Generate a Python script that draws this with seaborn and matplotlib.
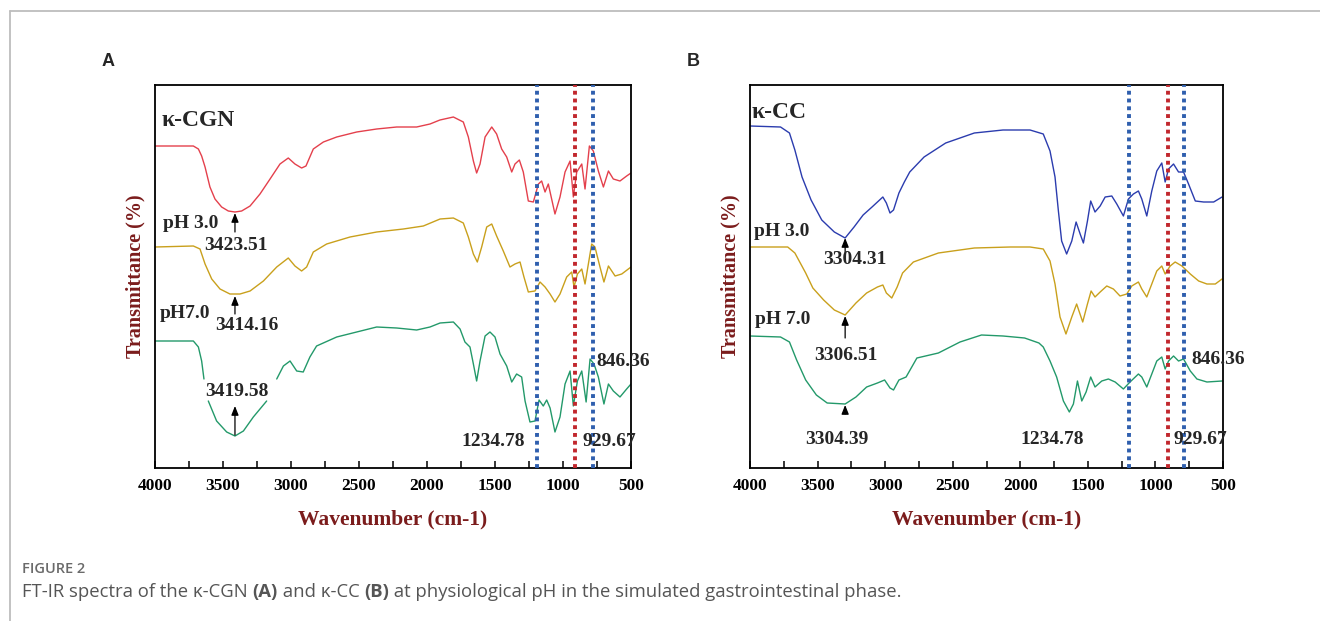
import numpy as np
import pandas as pd
import matplotlib
matplotlib.use("Agg")
import matplotlib.pyplot as plt
import seaborn as sns
from matplotlib.lines import Line2D
from matplotlib.ticker import MultipleLocator

sns.set_theme(style="white")
plt.rcParams["font.family"] = ["Liberation Serif", "DejaVu Serif"]

# ---------------- data (transmittance, arbitrary offset units) ----------------
# Panel A : kappa-CGN
a_red_wn = [4000, 3718, 3681, 3657, 3632, 3596, 3559, 3510, 3461, 3412, 3363, 3301, 3228, 3154, 3081, 3020,
            2971, 2922, 2890, 2836, 2762, 2664, 2517, 2370, 2223, 2076, 1978, 1905, 1806, 1733, 1696, 1659,
            1635, 1610, 1573, 1524, 1488, 1451, 1414, 1377, 1353, 1321, 1292, 1255, 1218, 1181, 1157, 1132,
            1108, 1059, 1022, 985, 948, 924, 899, 862, 838, 806, 777, 740, 703, 666, 630, 581, 532, 500]
a_red_t = [322, 322, 319, 312, 301, 281, 269, 261, 257, 256, 257, 262, 274, 289, 304, 310,
           304, 300, 302, 319, 326, 331, 336, 339, 341, 341, 344, 348, 351, 346, 331, 307,
           295, 304, 331, 341, 334, 319, 311, 296, 304, 308, 296, 267, 266, 284, 287, 276,
           284, 254, 271, 296, 307, 271, 296, 304, 279, 322, 317, 297, 281, 297, 289, 287, 292, 295]

a_yel_wn = [4000, 3718, 3669, 3632, 3583, 3522, 3449, 3375, 3301, 3203, 3105, 3020, 2971, 2922, 2885, 2836,
            2738, 2566, 2370, 2174, 2027, 1904, 1806, 1733, 1696, 1659, 1630, 1598, 1561, 1524, 1488, 1439,
            1390, 1353, 1316, 1287, 1255, 1206, 1169, 1132, 1095, 1059, 1022, 973, 936, 919, 894, 862,
            838, 789, 765, 728, 699, 666, 617, 568, 500]
a_yel_t = [221, 222, 219, 204, 189, 179, 174, 174, 177, 187, 201, 210, 202, 197, 201, 216,
           224, 231, 236, 239, 242, 249, 250, 245, 231, 214, 206, 221, 241, 244, 232, 217,
           201, 204, 206, 191, 176, 177, 186, 181, 174, 166, 174, 191, 196, 181, 194, 199,
           184, 224, 221, 201, 186, 202, 192, 194, 201]

# NaN marks the gaps visible in the green trace
a_grn_wn = [4000, 3718, 3681, 3657, 3640, 3624, 3608, 3547, 3473, 3412, 3350, 3277, 3179, 3142, 3105,
            3056, 3007, 2958, 2910, 2861, 2812, 2664, 2517, 2370, 2223, 2076, 1978, 1904, 1806, 1757,
            1721, 1684, 1659, 1635, 1610, 1573, 1537, 1500, 1463, 1414, 1377, 1341, 1304, 1279, 1243,
            1206, 1176, 1145, 1120, 1095, 1059, 1022, 985, 948, 924, 894, 862, 830, 801, 772,
            740, 699, 666, 630, 581, 532, 500]
a_grn_t = [127, 127, 121, 107, 89, np.nan, 67, 47, 36, 32, 37, 51, 67, np.nan, 89,
           102, 107, 97, 96, 111, 122, 131, 136, 141, 140, 138, 141, 145, 146, 139,
           126, 121, 104, 87, 107, 132, 136, 131, 114, 102, 86, 94, 91, 67, 46,
           47, 68, 62, 68, 60, 36, 51, 84, 97, 62, 87, 97, 66, 109, 104,
           91, 64, 84, 77, 71, 79, 84]

# Panel B : kappa-CC
b_blu_wn = [4000, 3774, 3708, 3668, 3615, 3548, 3469, 3376, 3296, 3230, 3163, 3097, 3057, 3017, 2991, 2964,
            2938, 2898, 2858, 2818, 2712, 2552, 2340, 2128, 1928, 1830, 1780, 1743, 1718, 1694, 1657, 1619,
            1587, 1557, 1533, 1503, 1479, 1447, 1409, 1372, 1323, 1286, 1237, 1200, 1163, 1126, 1101, 1064,
            1027, 990, 953, 928, 903, 866, 829, 792, 755, 705, 643, 569, 507]
b_blu_t = [342, 341, 335, 318, 291, 268, 248, 236, 230, 241, 253, 261, 266, 271, 265, 255,
           258, 275, 286, 296, 311, 325, 335, 338, 338, 334, 317, 291, 257, 227, 214, 227,
           246, 234, 225, 247, 267, 256, 262, 271, 272, 264, 252, 269, 274, 277, 269, 252,
           277, 297, 305, 286, 299, 304, 296, 296, 284, 267, 266, 266, 271]

b_yel_wn = [4000, 3721, 3668, 3588, 3535, 3455, 3376, 3296, 3216, 3137, 3057, 3017, 2991, 2951, 2911, 2871,
            2791, 2606, 2340, 2074, 1928, 1830, 1780, 1743, 1706, 1662, 1619, 1583, 1538, 1503, 1476, 1447,
            1409, 1360, 1311, 1262, 1212, 1175, 1126, 1101, 1064, 1027, 990, 953, 928, 891, 854, 804,
            742, 680, 619, 557, 507]
b_yel_t = [221, 221, 215, 195, 180, 168, 158, 153, 165, 175, 181, 183, 175, 170, 181, 195,
           206, 215, 220, 221, 221, 219, 207, 184, 151, 134, 151, 164, 146, 164, 177, 171,
           176, 182, 179, 172, 174, 182, 186, 179, 171, 184, 197, 202, 194, 202, 206, 202,
           194, 187, 184, 184, 189]

b_grn_wn = [4000, 3774, 3708, 3655, 3588, 3509, 3429, 3296, 3216, 3137, 3057, 3004, 2964, 2938, 2898, 2845,
            2765, 2606, 2446, 2287, 2128, 1968, 1862, 1830, 1780, 1731, 1681, 1637, 1607, 1577, 1545, 1513,
            1479, 1447, 1397, 1348, 1298, 1237, 1188, 1126, 1101, 1064, 1027, 990, 953, 928, 903, 866,
            829, 792, 742, 693, 619, 507]
b_grn_t = [132, 131, 126, 108, 88, 73, 65, 64, 71, 81, 85, 88, 80, 78, 88, 91,
           110, 115, 126, 133, 132, 130, 125, 121, 107, 91, 67, 56, 64, 87, 67, 76,
           91, 81, 87, 89, 86, 79, 86, 94, 91, 81, 94, 107, 111, 99, 107, 112,
           107, 109, 97, 89, 86, 87]

# reference band positions (dotted verticals)
a_blue_lines = [1193, 777]
a_red_lines = [912]
b_blue_lines = [1193, 789]
b_red_lines = [909]

x_ticks = [4000, 3500, 3000, 2500, 2000, 1500, 1000, 500]

C_RED, C_YEL, C_GRN, C_BLU = "#e4404c", "#c9a01c", "#23996a", "#2b3cae"
C_VBLUE, C_VRED = "#2f5fae", "#c1272d"
LAB_RED = "#7b1c1c"


def frame(wn, t, name):
    df = pd.DataFrame({"wn": wn, "t": t})
    df["seg"] = df["t"].isna().cumsum()
    df = df.dropna()
    df["name"] = name
    return df


fig = plt.figure(figsize=(13.2, 6.21), dpi=100)
W, H = 1320, 621
axA = fig.add_axes([155 / W, (H - 468) / H, 476 / W, 383 / H])
axB = fig.add_axes([750 / W, (H - 468) / H, 473 / W, 383 / H])

panels = [
    (axA, [(a_red_wn, a_red_t, C_RED), (a_yel_wn, a_yel_t, C_YEL), (a_grn_wn, a_grn_t, C_GRN)],
     a_blue_lines, a_red_lines),
    (axB, [(b_blu_wn, b_blu_t, C_BLU), (b_yel_wn, b_yel_t, C_YEL), (b_grn_wn, b_grn_t, C_GRN)],
     b_blue_lines, b_red_lines),
]

for ax, series, bl, rl in panels:
    for i, (wn, t, col) in enumerate(series):
        df = frame(wn, t, str(i))
        sns.lineplot(data=df, x="wn", y="t", units="seg", estimator=None, sort=False,
                     color=col, lw=1.0, ax=ax, legend=False)
    for x in bl:
        ax.axvline(x, color=C_VBLUE, lw=2.8, dashes=(1.0, 1.0), zorder=3)
    for x in rl:
        ax.axvline(x, color=C_VRED, lw=2.8, dashes=(1.0, 1.0), zorder=3)
    ax.set_xlim(4000, 500)
    ax.set_ylim(0, 383)
    ax.set_xticks(x_ticks)
    ax.set_xticklabels([str(v) for v in x_ticks], fontweight="bold", fontsize=12.5)
    ax.xaxis.set_minor_locator(MultipleLocator(250))
    ax.tick_params(axis="x", which="both", direction="in", length=5, width=1.1, bottom=True,
                   top=False, pad=7, colors="black")
    ax.tick_params(axis="y", left=False, labelleft=False)
    ax.set_yticks([])
    for s in ax.spines.values():
        s.set_color("black")
        s.set_linewidth(1.3)
    ax.set_xlabel("Wavenumber (cm-1)", fontsize=15.5, fontweight="bold", color=LAB_RED)
    ax.set_ylabel("Transmittance (%)", fontsize=14.5, fontweight="bold", color=LAB_RED)
    ax.xaxis.set_label_coords(0.5, -0.108)
    ax.yaxis.set_label_coords(-0.02, 0.5)
    ax.grid(False)

fs = 14
arrow = dict(arrowstyle="-|>,head_length=0.45,head_width=0.18", color="black", lw=0.9,
             shrinkA=0, shrinkB=0)

# panel A annotations
axA.text(3949, 348, "κ-CGN", fontsize=17, fontweight="bold", ha="left", va="center")
axA.text(3941, 244, "pH 3.0", fontsize=fs, fontweight="bold", ha="left", va="center")
axA.text(3404, 222, "3423.51", fontsize=fs, fontweight="bold", ha="center", va="center")
axA.annotate("", xy=(3412, 255), xytext=(3412, 236), arrowprops=arrow)
axA.text(3963, 154, "pH7.0", fontsize=fs, fontweight="bold", ha="left", va="center")
axA.text(3326, 142, "3414.16", fontsize=fs, fontweight="bold", ha="center", va="center")
axA.annotate("", xy=(3412, 172), xytext=(3412, 154), arrowprops=arrow)
axA.text(3399, 76, "3419.58", fontsize=fs, fontweight="bold", ha="center", va="center")
axA.annotate("", xy=(3412, 62), xytext=(3412, 33), arrowprops=arrow)
axA.text(752, 107, "846.36", fontsize=fs, fontweight="bold", ha="left", va="center", clip_on=False)
axA.text(1512, 26, "1234.78", fontsize=fs, fontweight="bold", ha="center", va="center")
axA.text(855, 26, "929.67", fontsize=fs, fontweight="bold", ha="left", va="center", clip_on=False)

# panel B annotations
axB.text(3985, 355, "κ-CC", fontsize=17, fontweight="bold", ha="left", va="center")
axB.text(3973, 236, "pH 3.0", fontsize=fs, fontweight="bold", ha="left", va="center")
axB.annotate("", xy=(3296, 230), xytext=(3296, 214), arrowprops=arrow)
axB.text(3224, 208, "3304.31", fontsize=fs, fontweight="bold", ha="center", va="center")
axB.text(3960, 148, "pH 7.0", fontsize=fs, fontweight="bold", ha="left", va="center")
axB.annotate("", xy=(3296, 152), xytext=(3296, 130), arrowprops=arrow)
axB.text(3291, 113, "3306.51", fontsize=fs, fontweight="bold", ha="center", va="center")
axB.annotate("", xy=(3296, 63), xytext=(3296, 54), arrowprops=arrow)
axB.text(3357, 28, "3304.39", fontsize=fs, fontweight="bold", ha="center", va="center")
axB.text(1764, 28, "1234.78", fontsize=fs, fontweight="bold", ha="center", va="center")
axB.text(735, 108, "846.36", fontsize=fs, fontweight="bold", ha="left", va="center", clip_on=False)
axB.text(868, 28, "929.67", fontsize=fs, fontweight="bold", ha="left", va="center", clip_on=False)

# panel letters
fig.text(108 / W, 1 - 62 / H, "A", fontsize=13, fontweight="bold", family="Liberation Sans",
         ha="center", va="center")
fig.text(693 / W, 1 - 62 / H, "B", fontsize=13, fontweight="bold", family="Liberation Sans",
         ha="center", va="center")

# outer frame (top & left)
fig.add_artist(Line2D([10 / W, 1.0], [1 - 10.5 / H, 1 - 10.5 / H], color="#bdbdbd", lw=1.3,
                      transform=fig.transFigure))
fig.add_artist(Line2D([10 / W, 10 / W], [0, 1 - 10.5 / H], color="#bdbdbd", lw=1.3,
                      transform=fig.transFigure))

# caption
fig.text(22 / W, 1 - 569 / H, "FIGURE 2", fontsize=10.5, fontweight="semibold", color="#6a6a6a",
         family="Open Sans", ha="left", va="center")
pieces = [("FT-IR spectra of the κ-CGN ", "normal"), ("(A)", "bold"), (" and κ-CC ", "normal"),
          ("(B)", "bold"),
          (" at physiological pH in the simulated gastrointestinal phase.", "normal")]
renderer = fig.canvas.get_renderer()
xpos = 22.0
for txt, wt in pieces:
    t = fig.text(xpos / W, 1 - 592 / H, txt, fontsize=13.3, fontweight=wt, color="#555555",
                 family="Open Sans", ha="left", va="center")
    bb = t.get_window_extent(renderer=renderer)
    xpos += bb.width

fig.savefig("out.png", dpi=100)
